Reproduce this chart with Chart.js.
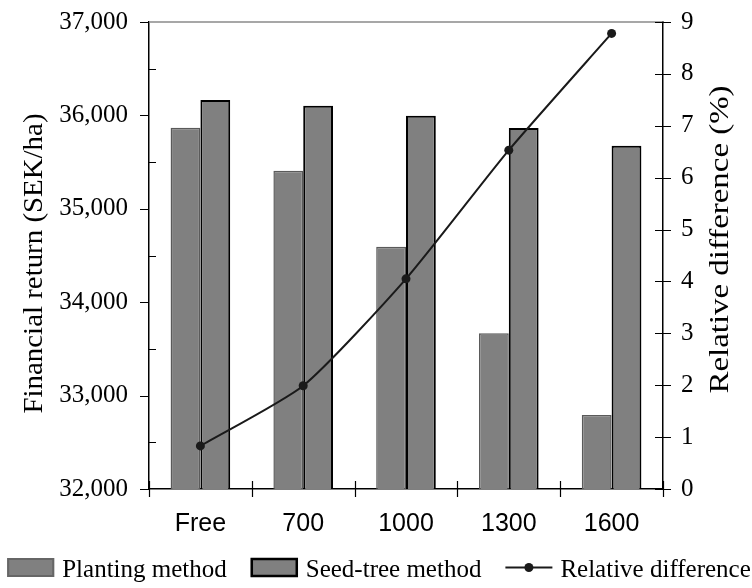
<!DOCTYPE html>
<html><head><meta charset="utf-8">
<script src="https://cdn.jsdelivr.net/npm/chart.js@4.4.1/dist/chart.umd.min.js"></script>
<style>html,body{margin:0;padding:0;background:#fff}#wrap{width:752px;height:588px;position:relative}</style>
</head><body><div id="wrap"><canvas id="c"></canvas></div>
<script>
const categories = ['Free', '700', '1000', '1300', '1600'];
const plantingValues = [35868, 35408, 34594, 33667, 32792];
const seedTreeValues = [36165, 36104, 35997, 35865, 35676];
const relativeDiff = [0.83, 1.99, 4.05, 6.53, 8.78];
const leftMin = 32000, leftMax = 37000, leftStep = 500, leftLabelStep = 1000;
const rightMin = 0, rightMax = 9, rightStep = 1;
const leftTitle = 'Financial return (SEK/ha)';
const rightTitle = 'Relative difference (%)';
const seriesNames = ['Planting method', 'Seed-tree method', 'Relative difference'];

const SERIF = '"Liberation Serif","Times New Roman",serif';
const SANS = '"Liberation Sans",Arial,sans-serif';

const decor = {
  id: 'decor',
  afterDraw(chart) {
    const {ctx, chartArea: a, scales} = chart;
    const y = scales.y, y2 = scales.y2, x = scales.x;
    ctx.save();
    // top frame line
    ctx.strokeStyle = '#8a8a8a'; ctx.lineWidth = 1.5;
    ctx.beginPath(); ctx.moveTo(a.left, a.top); ctx.lineTo(a.right, a.top); ctx.stroke();
    // ticks
    ctx.strokeStyle = '#000'; ctx.lineWidth = 1.2;
    ctx.beginPath();
    y.ticks.forEach(t => {
      const py = Math.round(y.getPixelForValue(t.value)) + 0.5;
      if (t.value % leftLabelStep === 0) { ctx.moveTo(a.left - 9, py); ctx.lineTo(a.left, py); }
      else { ctx.moveTo(a.left, py); ctx.lineTo(a.left + 7, py); }
    });
    y2.ticks.forEach(t => {
      const py = Math.round(y2.getPixelForValue(t.value)) + 0.5;
      ctx.moveTo(a.right - 8, py); ctx.lineTo(a.right + 8, py);
    });
    for (let i = 0; i <= categories.length; i++) {
      const px = Math.round(x.getPixelForValue(i - 0.5)) + 0.5;
      ctx.moveTo(px, a.bottom - 8); ctx.lineTo(px, a.bottom + 8);
    }
    ctx.stroke();
    // axis titles (rotated, reading bottom to top)
    const drawTitle = (text, cx, cy, len) => {
      ctx.save();
      ctx.translate(cx, cy); ctx.rotate(-Math.PI / 2);
      ctx.font = '27px ' + SERIF;
      const w = ctx.measureText(text).width;
      ctx.scale(len / w, 1);
      ctx.textAlign = 'center'; ctx.textBaseline = 'middle'; ctx.fillStyle = '#000';
      ctx.fillText(text, 0, 0);
      ctx.restore();
    };
    const mid = (a.top + a.bottom) / 2;
    drawTitle(leftTitle, a.left - 114, mid + 8, 300);
    drawTitle(rightTitle, a.right + 58, mid - 16, 308);
    // legend
    ctx.font = '25px ' + SERIF;
    const boxW = 47, boxH = 19, gap = 8, itemGap = 24;
    const ds = chart.data.datasets;
    const widths = ds.map(d => boxW + gap + ctx.measureText(d.label).width);
    const total = widths.reduce((s, v) => s + v, 0) + itemGap * (ds.length - 1);
    let lx = chart.width / 2 + 3 - total / 2;
    const boxTop = chart.height - 30;
    ds.forEach((d, i) => {
      if (d.type === 'bar') {
        ctx.fillStyle = d.backgroundColor;
        ctx.fillRect(lx, boxTop, boxW, boxH);
        ctx.strokeStyle = d.legendBorder || d.borderColor;
        ctx.lineWidth = d.legendBorderWidth || d.borderWidth;
        ctx.strokeRect(lx + 1, boxTop + 1, boxW - 2, boxH - 2);
      } else {
        const cy = boxTop + boxH / 2;
        ctx.strokeStyle = d.borderColor; ctx.lineWidth = d.borderWidth;
        ctx.beginPath(); ctx.moveTo(lx, cy); ctx.lineTo(lx + boxW, cy); ctx.stroke();
        ctx.fillStyle = d.pointBackgroundColor;
        ctx.beginPath(); ctx.arc(lx + boxW / 2, cy, d.pointRadius, 0, Math.PI * 2); ctx.fill();
      }
      ctx.fillStyle = '#000'; ctx.textAlign = 'left'; ctx.textBaseline = 'alphabetic';
      ctx.fillText(d.label, lx + boxW + gap, boxTop + boxH);
      lx += widths[i] + itemGap;
    });
    ctx.restore();
  }
};

const axisBorder = {display: true, color: '#000', width: 1.5};
const fitY = w => s => { s.width = w; s.paddingTop = 0; s.paddingBottom = 0; };
new Chart(document.getElementById('c'), {
  data: {
    labels: categories,
    datasets: [
      {type: 'bar', label: seriesNames[0], data: plantingValues, backgroundColor: '#808080', borderColor: '#5a5a5a', borderWidth: 1.5,
       legendBorder: '#666666', legendBorderWidth: 2, yAxisID: 'y', order: 1, base: leftMin, barPercentage: 1, categoryPercentage: 0.58},
      {type: 'bar', label: seriesNames[1], data: seedTreeValues, backgroundColor: '#808080', borderColor: '#000000', borderWidth: 2,
       legendBorderWidth: 2.5, yAxisID: 'y', order: 2, base: leftMin, barPercentage: 1, categoryPercentage: 0.58},
      {type: 'line', label: seriesNames[2], data: relativeDiff, borderColor: '#1a1a1a', borderWidth: 2, pointRadius: 4.5,
       pointBackgroundColor: '#1a1a1a', pointBorderWidth: 0, tension: 0.2, yAxisID: 'y2', order: 0}
    ]
  },
  options: {
    responsive: true, maintainAspectRatio: false, animation: false,
    layout: {padding: {top: 22, left: 0, right: 0, bottom: 45}},
    plugins: {legend: {display: false}, tooltip: {enabled: false}},
    scales: {
      x: {type: 'category', offset: true, grid: {display: false, drawTicks: false}, border: axisBorder,
          ticks: {font: {family: SANS, size: 25}, color: '#000', padding: 20, maxRotation: 0},
          afterFit(s) { s.height = 54; s.paddingLeft = 0; s.paddingRight = 0; }},
      y: {position: 'left', min: leftMin, max: leftMax, grid: {display: false, drawTicks: false}, border: axisBorder,
          ticks: {stepSize: leftStep, autoSkip: false, font: {family: SERIF, size: 25}, color: '#000', padding: 21,
                  callback: v => (v % leftLabelStep === 0 ? v.toLocaleString('en-US') : '')},
          afterFit: fitY(149)},
      y2: {position: 'right', min: rightMin, max: rightMax, grid: {display: false, drawTicks: false}, border: axisBorder,
           ticks: {stepSize: rightStep, font: {family: SERIF, size: 25}, color: '#000', padding: 18},
           afterFit: fitY(89)}
    }
  },
  plugins: [decor]
});
</script></body></html>
